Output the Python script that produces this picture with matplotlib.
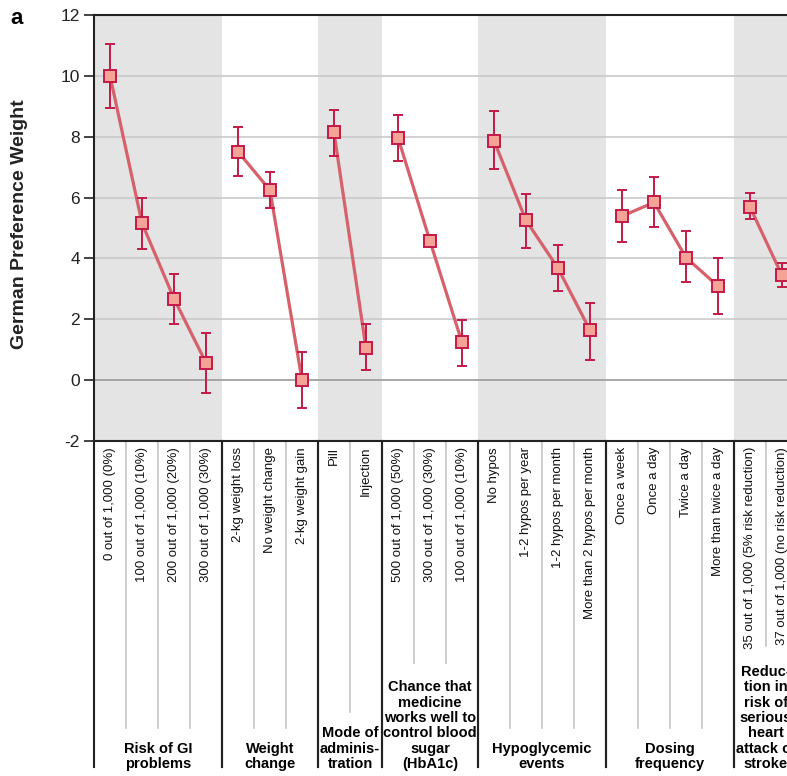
import numpy as np
import matplotlib
matplotlib.use("Agg")
import matplotlib.pyplot as plt
from matplotlib.transforms import blended_transform_factory

plt.rcParams['font.family'] = ['Liberation Sans', 'DejaVu Sans']
plt.rcParams['axes.unicode_minus'] = False

# ---- data (German preference weights, +/- CI) ----
groups = ["Risk of GI\nproblems", "Weight\nchange", "Mode of\nadminis-\ntration",
          "Chance that\nmedicine\nworks well to\ncontrol blood\nsugar\n(HbA1c)",
          "Hypoglycemic\nevents", "Dosing\nfrequency",
          "Reduc-\ntion in\nrisk of\nserious\nheart\nattack or\nstroke"]
levels = [
    ["0 out of 1,000 (0%)", "100 out of 1,000 (10%)", "200 out of 1,000 (20%)", "300 out of 1,000 (30%)"],
    ["2-kg weight loss", "No weight change", "2-kg weight gain"],
    ["Pill", "Injection"],
    ["500 out of 1,000 (50%)", "300 out of 1,000 (30%)", "100 out of 1,000 (10%)"],
    ["No hypos", "1-2 hypos per year", "1-2 hypos per month", "More than 2 hypos per month"],
    ["Once a week", "Once a day", "Twice a day", "More than twice a day"],
    ["35 out of 1,000 (5% risk reduction)", "37 out of 1,000 (no risk reduction)"],
]
weights = [
    [10.0, 5.16, 2.68, 0.57],
    [7.51, 6.24, 0.0],
    [8.14, 1.05],
    [7.97, 4.57, 1.24],
    [7.87, 5.25, 3.68, 1.64],
    [5.39, 5.84, 4.03, 3.09],
    [5.69, 3.44],
]
ci_low = [
    [8.95, 4.32, 1.84, -0.42],
    [6.70, 5.66, -0.90],
    [7.38, 0.33],
    [7.19, 4.57, 0.46],
    [6.93, 4.35, 2.92, 0.66],
    [4.55, 5.02, 3.21, 2.19],
    [5.31, 3.05],
]
ci_high = [
    [11.06, 5.98, 3.50, 1.55],
    [8.33, 6.84, 0.92],
    [8.89, 1.83],
    [8.73, 4.57, 1.99],
    [8.83, 6.12, 4.44, 2.55],
    [6.25, 6.66, 4.90, 4.00],
    [6.15, 3.86],
]

W, H = 787, 776
fig = plt.figure(figsize=(W / 100, H / 100), dpi=100)
# axes runs past the right edge on purpose: the reference is cropped there
ax = fig.add_axes([94 / W, 1 - 441 / H, 704 / W, 426 / H])
ncol = sum(len(l) for l in levels)
ax.set_xlim(-0.5, ncol - 0.5)
ax.set_ylim(-2, 12)

line_c = "#d6616b"
edge_c = "#c41a47"
face_c = "#f6a397"
band_c = "#e4e4e4"

for yv in range(0, 12, 2):
    ax.axhline(yv, color="#9a9a9a" if yv == 0 else "#c9c9c9", lw=1.2, zorder=1)

tr = blended_transform_factory(ax.transData, fig.transFigure)
def py(p):
    return 1 - p / H

start = 0
for g, (name, labs, w, lo, hi) in enumerate(zip(groups, levels, weights, ci_low, ci_high)):
    n = len(labs)
    xs = np.arange(start, start + n)
    if g % 2 == 0:
        ax.axvspan(start - 0.5, start + n - 0.5, color=band_c, lw=0, zorder=0)
    w = np.array(w); lo = np.array(lo); hi = np.array(hi)
    ax.plot(xs, w, color=line_c, lw=2.3, zorder=3)
    ax.errorbar(xs, w, yerr=[w - lo, hi - w], fmt="none", ecolor=edge_c,
                elinewidth=1.4, capsize=3.5, capthick=1.4, zorder=4)
    ax.plot(xs, w, ls="none", marker="s", ms=8, mfc=face_c, mec=edge_c,
            mew=1.4, zorder=5)

    # category labels under the axis
    for x, lab in zip(xs, labs):
        ax.text(x, py(447), lab, rotation=90, ha="center", va="top",
                fontsize=9.5, color="#111111", transform=tr)
    # thin grey separators inside the group, stopping above the group title
    nlines = name.count("\n") + 1
    y_end = 770 - 16.4 * nlines - 9
    for x in xs[1:]:
        ax.plot([x - 0.5, x - 0.5], [py(441), py(y_end)], color="#c4c4c4",
                lw=1.2, transform=tr, clip_on=False)
    # black group separators
    for xb in (start - 0.5, start + n - 0.5):
        ax.plot([xb, xb], [py(441), py(767)], color="#222222", lw=1.5,
                transform=tr, clip_on=False)
    ax.text(start + (n - 1) / 2, py(771), name, ha="center", va="bottom",
            fontsize=10.5, fontweight="bold", linespacing=1.12,
            multialignment="center", transform=tr)
    start += n

ax.set_xticks([])
ax.set_yticks(range(-2, 13, 2))
ax.tick_params(axis="y", length=7, width=1.2, labelsize=12.5, colors="#222222",
               pad=3)
for s in ("left", "top", "bottom"):
    ax.spines[s].set_linewidth(1.5)
    ax.spines[s].set_color("#222222")
ax.spines["right"].set_visible(False)

fig.text(20 / W, py(224), "German Preference Weight", rotation=90,
         ha="center", va="center", fontsize=14, fontweight="bold",
         color="#222222")
fig.text(10 / W, py(8), "a", ha="left", va="top", fontsize=16,
         fontweight="bold")

fig.savefig("out.png", dpi=100)
